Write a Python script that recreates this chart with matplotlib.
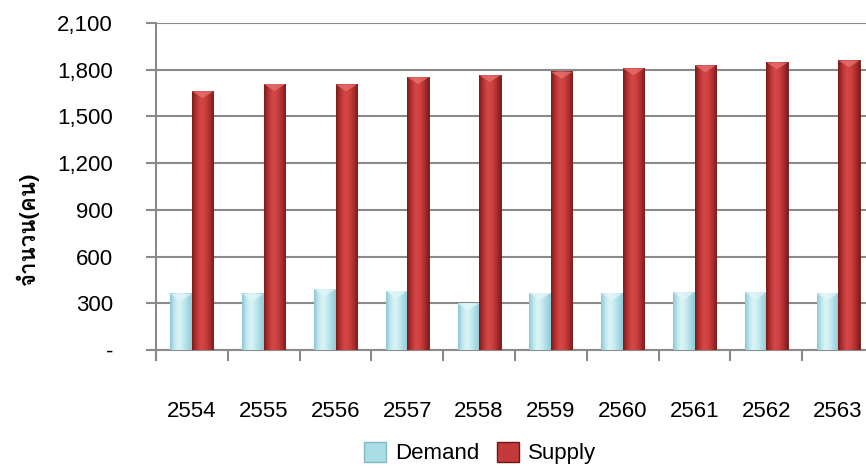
import numpy as np
import matplotlib
matplotlib.use("Agg")
import matplotlib.pyplot as plt
from matplotlib import font_manager
from matplotlib.ft2font import FT2Font
from matplotlib.colors import LinearSegmentedColormap
from matplotlib.patches import Patch

# Data
years = ['2554', '2555', '2556', '2557', '2558', '2559', '2560', '2561', '2562', '2563']
demand = [360, 360, 390, 378, 300, 366, 364, 370, 370, 364]
supply = [1662, 1708, 1706, 1752, 1765, 1786, 1809, 1828, 1847, 1860]
y_ticks = [0, 300, 600, 900, 1200, 1500, 1800, 2100]
y_tick_labels = ['-', '300', '600', '900', '1,200', '1,500', '1,800', '2,100']
y_label = 'จำนวน(คน)'


def find_thai_font():
    # installed fonts with Thai glyphs, prefer a bold looped sans
    found = []
    for entry in font_manager.fontManager.ttflist:
        try:
            f = FT2Font(entry.fname)
            if f.get_char_index(0x0E08) and f.get_char_index(0x0E33):
                found.append(entry)
        except Exception:
            continue

    def is_bold(e):
        return (isinstance(e.weight, int) and e.weight >= 600) or \
            str(e.weight).lower() in ('bold', 'semibold', 'demibold', 'heavy')

    for name in ('Tahoma', 'Loma', 'Garuda', 'Norasi'):
        for e in found:
            if e.name == name and is_bold(e) and e.style == 'normal':
                return e
    bold = [e for e in found if is_bold(e)]
    return (bold or found or [None])[0]


pick = find_thai_font()

plt.rcParams['font.family'] = ['Liberation Sans', 'DejaVu Sans']

fig = plt.figure(figsize=(8.66, 4.68), dpi=100)
ax = fig.add_axes([156 / 866, 1 - 350 / 468, 718 / 866, 327 / 468])

x = np.arange(len(years))
w = 0.3
grid_col = '#8a8a8a'

red_cmap = LinearSegmentedColormap.from_list(
    'red', ['#7a1a1a', '#b83232', '#d44848', '#cc4040', '#b03030', '#7e1c1c'])
cyan_cmap = LinearSegmentedColormap.from_list(
    'cyan', ['#8cc8d4', '#bfe7ee', '#dcf4f7', '#c6ebf1', '#a8dbe4', '#90cbd6'])
grad = np.linspace(0, 1, 64).reshape(1, -1)

bars_d = ax.bar(x - w / 2, demand, w, color='#a8dde6', edgecolor='#7fb9c4',
                linewidth=0.6, zorder=3, label='Demand')
bars_s = ax.bar(x + w / 2, supply, w, color='#c43a3a', edgecolor='#6e1616',
                linewidth=0.6, zorder=3, label='Supply')

# fake Excel-style bevel shading + lighter pyramid top
bevel = 45
for bars, cmap, top in ((bars_d, cyan_cmap, '#e4f6f9'), (bars_s, red_cmap, '#e87272')):
    for b in bars:
        x0, y0 = b.get_x(), b.get_y()
        x1, y1 = x0 + b.get_width(), y0 + b.get_height()
        ax.imshow(grad, cmap=cmap, aspect='auto', zorder=3.5,
                  extent=[x0, x1, y0, y1], interpolation='bilinear')
        ax.fill([x0, x1, (x0 + x1) / 2], [y1, y1, y1 - bevel], color=top,
                alpha=0.75, lw=0, zorder=3.6)

ax.set_xlim(-0.5, len(years) - 0.5)
ax.set_ylim(0, 2100)

# grid / spines
ax.set_yticks(y_ticks)
ax.set_yticklabels(y_tick_labels, fontsize=16)
ax.yaxis.grid(True, color=grid_col, linewidth=1.5, zorder=0)
ax.set_axisbelow(True)
for s in ['top', 'right']:
    ax.spines[s].set_visible(False)
for s in ['left', 'bottom']:
    ax.spines[s].set_color(grid_col)
    ax.spines[s].set_linewidth(1.5)
ax.plot([0, 0], [-0.03, 0], transform=ax.transAxes, color=grid_col,
        lw=1.5, clip_on=False)
ax.tick_params(axis='y', length=7, width=1.5, color=grid_col, pad=24)

# category boundaries as minor ticks, labels at centres
ax.set_xticks(np.arange(-0.5, len(years), 1), minor=True)
ax.set_xticks(x)
ax.set_xticklabels(years, fontsize=16)
ax.tick_params(axis='x', which='minor', length=8, width=1.5, color=grid_col)
ax.tick_params(axis='x', which='major', length=0, pad=37)

if pick is not None:
    fp = font_manager.FontProperties(fname=pick.fname, size=16, weight='bold')
    fig.text(27 / 866, 1 - 228 / 468, y_label, rotation=90, fontproperties=fp,
             ha='center', va='center')
else:
    fig.text(27 / 866, 1 - 228 / 468, y_label, rotation=90, fontsize=16,
             fontweight='bold', ha='center', va='center')

handles = [Patch(facecolor='#a8dde6', edgecolor='#7fb9c4', label='Demand'),
           Patch(facecolor='#c43a3a', edgecolor='#6e1616', label='Supply')]
fig.legend(handles=handles, loc='center', bbox_to_anchor=(480 / 866, 1 - 453 / 468),
           ncol=2, frameon=False, fontsize=16, handlelength=1.0,
           handleheight=1.0, columnspacing=0.8, handletextpad=0.4)

fig.savefig('out.png', dpi=100)
